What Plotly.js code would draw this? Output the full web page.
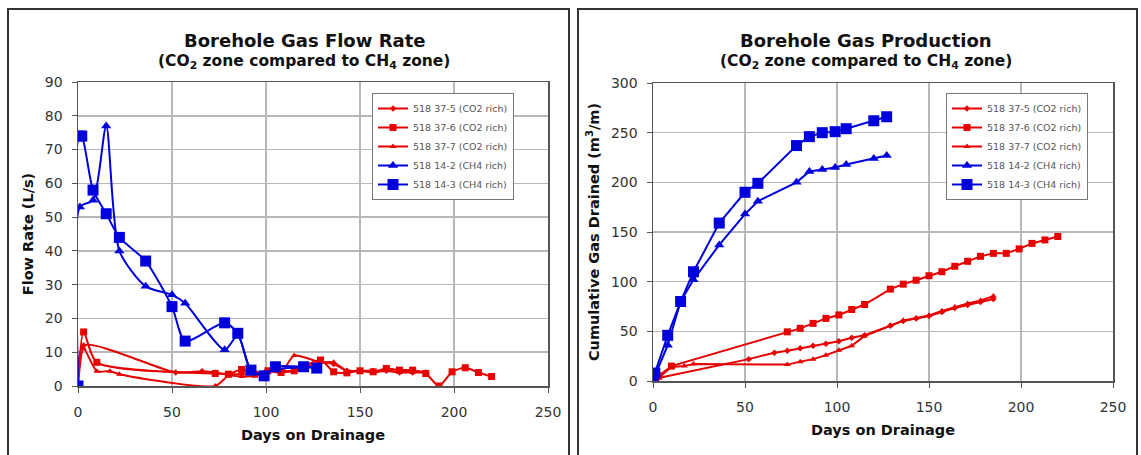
<!DOCTYPE html>
<html>
<head>
<meta charset="utf-8">
<script src="https://cdn.plot.ly/plotly-3.0.1.min.js"></script>
<style>html,body{margin:0;padding:0;background:#fff;}#chart{width:1141px;height:455px;}</style>
</head>
<body>
<div id="chart"></div>
<script>
// ---------------- DATA ----------------
const seriesNames = ["518 37-5 (CO2 rich)", "518 37-6 (CO2 rich)", "518 37-7 (CO2 rich)", "518 14-2 (CH4 rich)", "518 14-3 (CH4 rich)"];

// Flow rate (L/s) – left chart
const days_37_5 = [0, 3, 52, 66, 73, 80, 87, 94, 101, 108, 115, 129, 136, 143, 150, 157, 164, 171, 178, 185];
const rate_37_5 = [0, 12, 4, 4.4, 4, 3.5, 3.5, 3.5, 4.5, 4.5, 4.5, 7, 6.5, 4.5, 4.5, 4.5, 4.5, 4, 4, 4];
const days_37_6 = [0, 3, 10, 73, 80, 87, 94, 101, 108, 115, 129, 136, 143, 150, 157, 164, 171, 178, 185, 192, 199, 206, 213, 220];
const rate_37_6 = [0, 16, 7, 3.7, 3.5, 4.9, 3.5, 4.5, 4, 4.5, 7.7, 4.2, 3.9, 4.5, 4.2, 5.2, 4.7, 4.7, 3.7, 0, 4.2, 5.4, 4, 2.8];
const days_37_7 = [0, 3, 10, 17, 22, 73, 80, 87, 94, 101, 108, 115, 129, 136, 143, 150, 157, 164, 171, 178, 185];
const rate_37_7 = [0, 11, 4.4, 4.4, 3.5, 0, 3, 2.8, 3, 4.5, 4, 9, 7, 7, 4.5, 4.5, 4, 4.5, 4.2, 4.5, 4];
const days_14_2 = [0, 1, 8, 15, 22, 36, 50, 57, 78, 85, 92, 99, 105, 120, 127];
const rate_14_2 = [0, 53, 55, 77, 40, 29.5, 27, 24.5, 10.7, 15, 4.5, 3.5, 5, 5.5, 5.5];
const days_14_3_rate = [0, 0.5, 2, 8, 15, 22, 36, 50, 57, 78, 85, 92, 99, 105, 120, 127];
const rate_14_3 = [0, 74, 74, 58, 51, 44, 37, 23.5, 13.3, 18.7, 15.6, 4.7, 3, 5.7, 5.7, 5.3];

// Cumulative gas drained (m3/m) – right chart
const cum_37_5 = [0, 3, 22, 28.5, 30.5, 33, 35.5, 37.5, 40, 43.5, 46, 55.5, 60.5, 63, 65.5, 69.5, 73.5, 76.5, 79.5, 82.5];
const days_37_6_cum = [0, 3, 10, 73, 80, 87, 94, 101, 108, 115, 129, 136, 143, 150, 157, 164, 171, 178, 185, 192, 199, 206, 213, 220];
const cum_37_6 = [0, 5, 15, 49.5, 53, 58, 63, 66.5, 72, 77, 92.5, 97.5, 101.5, 106, 110, 115.5, 120.5, 125.5, 128.5, 128.5, 133, 138.5, 142, 145.5];
const cum_37_7 = [0, 3, 14, 15, 17, 16.5, 19.5, 22, 26, 31, 35.5, 45.3, 56, 61, 63.5, 66, 70.5, 74.5, 78, 81, 85.5];
const days_14_cum = [0, 1, 8, 15, 22, 36, 50, 57, 78, 85, 92, 99, 105, 120, 127];
const cum_14_2 = [0, 5, 36, 80, 102, 137, 168, 181, 200, 211, 213, 215, 218, 224, 227];
const cum_14_3 = [0, 8, 46, 80, 110, 159, 190, 199, 237, 246, 250, 251, 254, 262, 266];

const xTicks = [0, 50, 100, 150, 200, 250];
const yTicksRate = [0, 10, 20, 30, 40, 50, 60, 70, 80, 90];
const yTicksCum = [0, 50, 100, 150, 200, 250, 300];

// ---------------- STYLE ----------------
const RED = "#e60000", BLUE = "#0000dd";
const W = 1141, H = 455;
const px = v => v / W, py = v => (H - v) / H;

function tr(x, y, name, color, symbol, size, xa, ya, leg, shape) {
  return {
    x: x, y: y, name: name, type: "scatter", mode: "lines+markers",
    xaxis: xa, yaxis: ya, legend: leg,
    line: {color: color, width: 2, shape: shape, smoothing: 0.7},
    marker: {color: color, symbol: symbol, size: size}
  };
}

const traces = [
  tr(days_37_5, rate_37_5, seriesNames[0], RED, "diamond", 5, "x", "y", "legend", "spline"),
  tr(days_37_6, rate_37_6, seriesNames[1], RED, "square", 7, "x", "y", "legend", "spline"),
  tr(days_37_7, rate_37_7, seriesNames[2], RED, "triangle-up", 6, "x", "y", "legend", "spline"),
  tr(days_14_2, rate_14_2, seriesNames[3], BLUE, "triangle-up", 9, "x", "y", "legend", "spline"),
  tr(days_14_3_rate, rate_14_3, seriesNames[4], BLUE, "square", 11, "x", "y", "legend", "spline"),
  tr(days_37_5, cum_37_5, seriesNames[0], RED, "diamond", 5, "x2", "y2", "legend2", "linear"),
  tr(days_37_6_cum, cum_37_6, seriesNames[1], RED, "square", 7, "x2", "y2", "legend2", "linear"),
  tr(days_37_7, cum_37_7, seriesNames[2], RED, "triangle-up", 6, "x2", "y2", "legend2", "linear"),
  tr(days_14_cum, cum_14_2, seriesNames[3], BLUE, "triangle-up", 9, "x2", "y2", "legend2", "linear"),
  tr(days_14_cum, cum_14_3, seriesNames[4], BLUE, "square", 11, "x2", "y2", "legend2", "linear")
];

const tickFont = {family: "DejaVu Sans", size: 14, color: "#333"};
const axTitleFont = {family: "DejaVu Sans", size: 14.5, color: "#111", weight: "bold"};

function xAxis(domain, anchor, title) {
  return {
    domain: domain, anchor: anchor, range: [0, 250], tickvals: xTicks,
    showgrid: true, gridcolor: "#b8b8b8", gridwidth: 1.5,
    showline: true, linecolor: "#555", linewidth: 1.5, mirror: true,
    ticks: "outside", ticklen: 5, tickcolor: "#555", ticklabelstandoff: 8,
    tickfont: tickFont, zeroline: false, fixedrange: true,
    title: {text: title, font: axTitleFont, standoff: 10}
  };
}
function yAxis(domain, anchor, range, ticks, title) {
  return {
    domain: domain, anchor: anchor, range: range, tickvals: ticks,
    showgrid: true, gridcolor: "#b8b8b8", gridwidth: 1.5,
    showline: true, linecolor: "#555", linewidth: 1.5, mirror: true,
    ticks: "outside", ticklen: 5, tickcolor: "#555", ticklabelstandoff: 6,
    tickfont: tickFont, zeroline: false, fixedrange: true,
    title: {text: title, font: axTitleFont, standoff: 8}
  };
}

const legendStyle = (x, y) => ({
  x: x, y: y, xanchor: "left", yanchor: "top",
  bgcolor: "#fff", bordercolor: "#777", borderwidth: 1,
  font: {family: "DejaVu Sans", size: 9.5, color: "#555"},
  itemwidth: 30, tracegroupgap: 0
});

const titleFont = {family: "DejaVu Sans", size: 18, color: "#111", weight: "bold"};
const subFont = {family: "DejaVu Sans", size: 15.5, color: "#111", weight: "bold"};

const layout = {
  width: W, height: H,
  margin: {l: 0, r: 0, t: 0, b: 0},
  paper_bgcolor: "#fff", plot_bgcolor: "#fff",
  showlegend: true,
  xaxis: xAxis([px(78), px(548)], "y", "Days on Drainage"),
  yaxis: yAxis([py(386), py(82)], "x", [0, 90], yTicksRate, "Flow Rate (L/s)"),
  xaxis2: xAxis([px(653), px(1113)], "y2", "Days on Drainage"),
  yaxis2: yAxis([py(381), py(83)], "x2", [0, 300], yTicksCum, "Cumulative Gas Drained (m<sup>3</sup>/m)"),
  legend: legendStyle(px(372), py(93)),
  legend2: legendStyle(px(946), py(93)),
  annotations: [
    {text: "Borehole Gas Flow Rate", x: px(304), y: py(40), xref: "paper", yref: "paper", showarrow: false, font: titleFont, xanchor: "center", yanchor: "middle"},
    {text: "(CO<sub>2</sub> zone compared to CH<sub>4</sub> zone)", x: px(304), y: py(62), xref: "paper", yref: "paper", showarrow: false, font: subFont, xanchor: "center", yanchor: "middle"},
    {text: "Borehole Gas Production", x: px(866), y: py(40), xref: "paper", yref: "paper", showarrow: false, font: titleFont, xanchor: "center", yanchor: "middle"},
    {text: "(CO<sub>2</sub> zone compared to CH<sub>4</sub> zone)", x: px(866), y: py(62), xref: "paper", yref: "paper", showarrow: false, font: subFont, xanchor: "center", yanchor: "middle"}
  ],
  shapes: [
    {type: "rect", xref: "paper", yref: "paper", x0: px(8), x1: px(569), y0: -0.05, y1: py(9), line: {color: "#333", width: 2}, layer: "below"},
    {type: "rect", xref: "paper", yref: "paper", x0: px(578), x1: px(1137), y0: -0.05, y1: py(9), line: {color: "#333", width: 2}, layer: "below"}
  ]
};

Plotly.newPlot("chart", traces, layout, {displayModeBar: false, staticPlot: true});
</script>
</body>
</html>
